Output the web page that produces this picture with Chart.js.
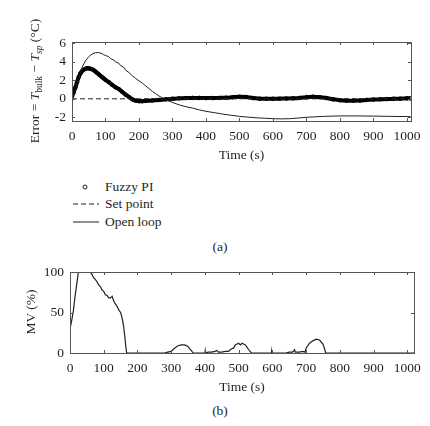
<!DOCTYPE html>
<html>
<head>
<meta charset="utf-8">
<script src="https://cdn.jsdelivr.net/npm/chart.js@4.4.1/dist/chart.umd.min.js"></script>
<style>
  html, body { margin:0; padding:0; background:#fff; }
  body { width:430px; height:426px; position:relative; overflow:hidden;
         font-family:"Liberation Serif","DejaVu Serif",serif; color:#231f20; }
  canvas { position:absolute; left:0; }
  .ytitle { position:absolute; transform:translate(-50%,-50%) rotate(-90deg);
            white-space:nowrap; font-size:13.5px; line-height:1; }
  .ytitle sub { font-size:9.5px; vertical-align:-3px; line-height:0; }
  .legend { position:absolute; left:73px; top:178px; font-size:13.5px; }
  .legend div { height:17.5px; display:flex; align-items:center; }
  .legend svg { width:26px; height:10px; margin-right:6px; }
  .cap { position:absolute; transform:translate(-50%,-50%); font-size:13.5px; }
</style>
</head>
<body>
<canvas id="c1" width="430" height="170" style="top:0"></canvas>
<canvas id="c2" width="430" height="145" style="top:255px"></canvas>

<div class="ytitle" style="left:35px; top:81px;">Error = <i>T</i><sub>bulk</sub> − <i>T<sub>sp</sub></i> (°C)</div>
<div class="ytitle" style="left:31px; top:312px;">MV (%)</div>

<div class="legend">
  <div><svg viewBox="0 0 26 10"><circle cx="12" cy="5" r="2" fill="none" stroke="#231f20" stroke-width="1"/></svg>Fuzzy PI</div>
  <div><svg viewBox="0 0 26 10"><line x1="0" y1="5" x2="26" y2="5" stroke="#231f20" stroke-width="1" stroke-dasharray="5,3"/></svg>Set point</div>
  <div><svg viewBox="0 0 26 10"><line x1="0" y1="5" x2="26" y2="5" stroke="#231f20" stroke-width="1"/></svg>Open loop</div>
</div>
<div class="cap" style="left:220px; top:247px;">(a)</div>
<div class="cap" style="left:220px; top:411px;">(b)</div>

<script>
// ---------- data ----------
const xTickValues = [0,100,200,300,400,500,600,700,800,900,1000];
const errTickValues = [-2,0,2,4,6];
const mvTickValues = [0,50,100];

const fuzzyTime = [0,5,10,15,20,25,30,35,40,45,50,55,60,65,70,75,80,85,90,95,100,110,120,130,140,150,160,170,180,190,200,210,220,240,260,280,300,320,340,360,380,400,420,440,460,480,500,520,540,560,580,600,620,640,660,680,700,720,740,760,780,800,820,840,860,880,900,920,940,960,980,1000,1010];
const fuzzyError = [0.25,0.7,1.2,1.8,2.35,2.75,3.0,3.15,3.25,3.3,3.3,3.25,3.2,3.1,2.95,2.8,2.65,2.5,2.35,2.2,2.05,1.8,1.5,1.25,1.05,0.75,0.45,0.2,-0.05,-0.2,-0.25,-0.25,-0.22,-0.18,-0.12,-0.05,0.0,0.05,0.08,0.1,0.1,0.08,0.08,0.1,0.12,0.18,0.22,0.2,0.08,0.02,0.0,0.0,0.02,0.03,0.05,0.1,0.18,0.22,0.18,0.08,-0.05,-0.15,-0.2,-0.2,-0.18,-0.12,-0.08,-0.05,-0.03,0.0,0.02,0.05,0.05];

const setPointTime = [0,1012];
const setPointError = [0,0];

const openTime = [0,10,20,30,40,50,60,70,80,90,95,100,110,115,125,130,140,145,155,160,170,180,190,200,210,220,230,240,250,260,270,280,300,320,340,360,380,400,425,450,475,500,525,550,575,600,625,650,675,700,725,750,800,850,900,950,1000,1010];
const openError = [0.0,1.0,2.2,3.4,4.1,4.55,4.85,5.0,5.0,4.9,4.75,4.7,4.55,4.35,4.2,4.0,3.85,3.6,3.4,3.1,2.85,2.5,2.2,1.95,1.7,1.4,1.1,0.8,0.55,0.3,0.1,-0.1,-0.4,-0.65,-0.85,-1.0,-1.2,-1.35,-1.5,-1.65,-1.78,-1.9,-1.98,-2.05,-2.1,-2.15,-2.17,-2.15,-2.08,-2.0,-1.95,-1.9,-1.85,-1.85,-1.87,-1.9,-1.92,-1.92];

const mvTime = [0,1,5,10,15,20,25,60,65,70,75,80,85,90,95,100,105,110,115,120,125,128,132,136,140,145,150,153,156,159,162,165,168,280,290,300,305,310,320,330,340,350,355,360,365,400,401,402,410,420,430,435,440,450,460,470,478,485,490,500,505,510,520,530,538,597,598,599,640,650,660,666,668,680,690,697,700,710,720,730,740,750,755,758,1020];
const mvValue = [50,32,40,52,70,85,100,100,97,93,91,88,84,82,78,76,72,71,68,68,70,66,62,60,57,53,50,46,40,33,22,10,0,0,1,2,4,6,9,10,10,8,5,3,0,0,3,0,1,1,2,3,1,1,2,2,5,6,10,12,10,12,10,4,0,0,2,0,0,1,1,4,1,1,2,1,6,12,15,17,16,11,5,0,0];

// ---------- helpers ----------
const INK = '#231f20';
const FONT = {family:'"Liberation Serif","DejaVu Serif",serif', size:13.5};
const pts = (xs, ys) => xs.map((x,i)=>({x, y:ys[i]}));

const framePlugin = {
  id:'frame',
  afterDatasetsDraw(chart){
    const {ctx, chartArea:a, scales} = chart;
    ctx.save();
    ctx.strokeStyle = '#555';
    ctx.lineWidth = 1;
    ctx.strokeRect(Math.round(a.left)+0.5, Math.round(a.top)+0.5, Math.round(a.right-a.left), Math.round(a.bottom-a.top));
    const L = 3;
    ctx.beginPath();
    scales.x.ticks.forEach(t=>{
      const px = Math.round(scales.x.getPixelForValue(t.value))+0.5;
      ctx.moveTo(px, a.bottom); ctx.lineTo(px, a.bottom-L);
      ctx.moveTo(px, a.top); ctx.lineTo(px, a.top+L);
    });
    scales.y.ticks.forEach(t=>{
      const py = Math.round(scales.y.getPixelForValue(t.value))+0.5;
      ctx.moveTo(a.left, py); ctx.lineTo(a.left+L, py);
      ctx.moveTo(a.right, py); ctx.lineTo(a.right-L, py);
    });
    ctx.stroke();
    ctx.restore();
  }
};

function xScale(max, height){
  return {
    type:'linear', min:0, max:max,
    afterBuildTicks: s => { s.ticks = xTickValues.map(v=>({value:v})); },
    afterFit: s => { s.height = height; },
    grid:{display:false, drawTicks:false}, border:{display:false},
    ticks:{font:FONT, color:INK, padding:7, maxRotation:0, autoSkip:false, callback:v=>String(v)},
    title:{display:true, text:'Time (s)', font:FONT, color:INK, padding:0}
  };
}
function yScale(min, max, tickVals, width){
  return {
    type:'linear', min:min, max:max,
    afterBuildTicks: s => { s.ticks = tickVals.map(v=>({value:v})); },
    afterFit: s => { s.width = width; },
    grid:{display:false, drawTicks:false}, border:{display:false},
    ticks:{font:FONT, color:INK, padding:6, callback:v=>String(v)}
  };
}

const common = {
  responsive:false, animation:false, devicePixelRatio:1,
  plugins:{legend:{display:false}, tooltip:{enabled:false}},
};

new Chart(document.getElementById('c1'), {
  type:'line',
  data:{datasets:[
    {label:'Open loop', data:pts(openTime, openError), borderColor:INK, borderWidth:1, pointRadius:0, tension:0},
    {label:'Set point', data:pts(setPointTime, setPointError), borderColor:INK, borderWidth:1, borderDash:[5,3], pointRadius:0},
    {label:'Fuzzy PI', data:pts(fuzzyTime, fuzzyError), borderColor:'#000', borderWidth:4, pointRadius:1.8, pointBorderWidth:1, pointBorderColor:'#000', pointBackgroundColor:'rgba(0,0,0,0)', tension:0.3}
  ]},
  options:Object.assign({}, common, {
    layout:{padding:{left:0, right:19, top:42, bottom:6}},
    scales:{ x:xScale(1012, 43), y:yScale(-2.4, 6.15, errTickValues, 72) }
  }),
  plugins:[framePlugin]
});

new Chart(document.getElementById('c2'), {
  type:'line',
  data:{datasets:[
    {label:'MV', data:pts(mvTime, mvValue), borderColor:INK, borderWidth:1.2, pointRadius:0, tension:0}
  ]},
  options:Object.assign({}, common, {
    layout:{padding:{left:0, right:16, top:17, bottom:4}},
    scales:{ x:xScale(1020, 43), y:yScale(0, 100, mvTickValues, 70) }
  }),
  plugins:[framePlugin]
});
</script>
</body>
</html>
